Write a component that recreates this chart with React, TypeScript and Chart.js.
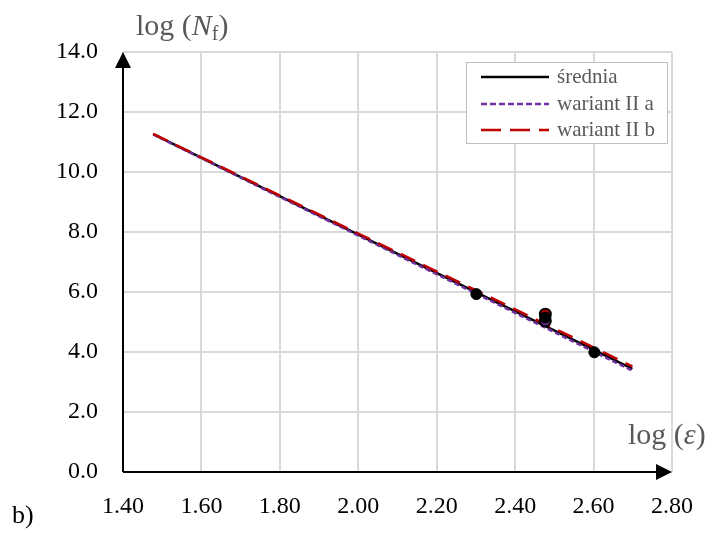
import React, { useEffect, useRef } from "react";
import { Chart, registerables } from "chart.js";

Chart.register(...registerables);

// x = log(strain), y = log(Nf)
const lineX = [1.477, 1.699, 2.0, 2.301, 2.477, 2.602, 2.699];
const sredniaY = [11.26, 9.84, 7.91, 5.99, 4.86, 4.06, 3.44];
const wariantAY = [11.25, 9.82, 7.88, 5.94, 4.81, 4.0, 3.38];
const wariantBY = [11.27, 9.86, 7.95, 6.05, 4.93, 4.14, 3.52];

const expX = [2.301, 2.477, 2.602];
const expY = [5.93, 5.15, 3.99];
const expRedX = [2.477];
const expRedY = [5.26];
const expPurpleX = [2.477];
const expPurpleY = [5.04];

const legendLabels = ["średnia", "wariant II a", "wariant II b"];
const xTicks = [1.4, 1.6, 1.8, 2.0, 2.2, 2.4, 2.6, 2.8];
const yTicks = [0, 2, 4, 6, 8, 10, 12, 14];

const BLACK = "#000000";
const PURPLE = "#7030A0";
const RED = "#C00000";
const GRAY_TEXT = "#595959";
const SERIF = '"Liberation Serif", "Times New Roman", serif';

const pts = (xs: number[], ys: number[]) => xs.map((x, i) => ({ x, y: ys[i] }));

const overlayPlugin = {
  id: "overlay",
  afterDraw(chart: any) {
    const ctx = chart.ctx;
    const xs = chart.scales.x;
    const ys = chart.scales.y;
    const x0 = xs.getPixelForValue(1.4);
    const x1 = xs.getPixelForValue(2.8);
    const y0 = ys.getPixelForValue(0);
    const y1 = ys.getPixelForValue(14);
    ctx.save();
    ctx.strokeStyle = BLACK;
    ctx.fillStyle = BLACK;
    ctx.lineWidth = 2;
    // y axis
    ctx.beginPath();
    ctx.moveTo(x0, y0);
    ctx.lineTo(x0, y1 + 14);
    ctx.stroke();
    ctx.beginPath();
    ctx.moveTo(x0, y1);
    ctx.lineTo(x0 - 8, y1 + 16);
    ctx.lineTo(x0 + 8, y1 + 16);
    ctx.closePath();
    ctx.fill();
    // x axis
    ctx.beginPath();
    ctx.moveTo(x0, y0);
    ctx.lineTo(x1 - 14, y0);
    ctx.stroke();
    ctx.beginPath();
    ctx.moveTo(x1, y0);
    ctx.lineTo(x1 - 16, y0 - 8);
    ctx.lineTo(x1 - 16, y0 + 8);
    ctx.closePath();
    ctx.fill();

    // legend
    const lx = 466.5, ly = 62.5, lw = 201, lh = 81;
    ctx.fillStyle = "#ffffff";
    ctx.fillRect(lx, ly, lw, lh);
    ctx.strokeStyle = "#bfbfbf";
    ctx.lineWidth = 1;
    ctx.strokeRect(lx, ly, lw, lh);
    const rows = [
      { color: BLACK, dash: [] as number[], y: 77 },
      { color: PURPLE, dash: [6, 3], y: 104 },
      { color: RED, dash: [20, 9], y: 130 },
    ];
    rows.forEach((r, i) => {
      ctx.strokeStyle = r.color;
      ctx.lineWidth = 2.5;
      ctx.setLineDash(r.dash);
      ctx.beginPath();
      ctx.moveTo(481, r.y);
      ctx.lineTo(549, r.y);
      ctx.stroke();
      ctx.setLineDash([]);
      ctx.fillStyle = GRAY_TEXT;
      ctx.font = `21px ${SERIF}`;
      ctx.textBaseline = "middle";
      ctx.textAlign = "left";
      ctx.fillText(legendLabels[i], 557, r.y);
    });
    ctx.restore();
  },
};

export default function App() {
  const ref = useRef<HTMLCanvasElement>(null);

  useEffect(() => {
    if (!ref.current) return;
    const chart = new Chart(ref.current, {
      type: "scatter",
      data: {
        datasets: [
          {
            label: "exp",
            data: pts(expX, expY),
            pointRadius: 5.5,
            pointBackgroundColor: BLACK,
            pointBorderColor: BLACK,
            pointBorderWidth: 1,
            showLine: false,
            order: 0,
          },
          {
            label: "exp red",
            data: pts(expRedX, expRedY),
            pointRadius: 5.5,
            pointBackgroundColor: RED,
            pointBorderColor: BLACK,
            pointBorderWidth: 2,
            showLine: false,
            order: 1,
          },
          {
            label: "exp purple",
            data: pts(expPurpleX, expPurpleY),
            pointRadius: 5.5,
            pointBackgroundColor: PURPLE,
            pointBorderColor: BLACK,
            pointBorderWidth: 2,
            showLine: false,
            order: 1,
          },
          {
            label: legendLabels[2],
            data: pts(lineX, wariantBY),
            showLine: true,
            borderColor: RED,
            borderWidth: 2.5,
            borderDash: [16, 9],
            pointRadius: 0,
            order: 2,
          },
          {
            label: legendLabels[1],
            data: pts(lineX, wariantAY),
            showLine: true,
            borderColor: PURPLE,
            borderWidth: 2.5,
            borderDash: [5, 3],
            pointRadius: 0,
            order: 3,
          },
          {
            label: legendLabels[0],
            data: pts(lineX, sredniaY),
            showLine: true,
            borderColor: BLACK,
            borderWidth: 2.5,
            pointRadius: 0,
            order: 4,
          },
        ],
      },
      options: {
        animation: false,
        responsive: false,
        devicePixelRatio: 1,
        layout: { padding: { top: 52, right: 38, left: 0, bottom: 0 } },
        plugins: { legend: { display: false }, tooltip: { enabled: false } },
        scales: {
          x: {
            type: "linear",
            min: 1.4,
            max: 2.8,
            afterFit: (s: any) => {
              s.height = 61;
            },
            afterBuildTicks: (s: any) => {
              s.ticks = xTicks.map((v) => ({ value: v }));
            },
            ticks: {
              color: BLACK,
              font: { family: SERIF, size: 24 },
              padding: 20,
              maxRotation: 0,
              callback: (v: any) => Number(v).toFixed(2),
            },
            grid: { color: "#d9d9d9", lineWidth: 2, drawTicks: false },
            border: { display: false },
          },
          y: {
            type: "linear",
            min: 0,
            max: 14,
            afterFit: (s: any) => {
              s.width = 123;
            },
            afterBuildTicks: (s: any) => {
              s.ticks = yTicks.map((v) => ({ value: v }));
            },
            ticks: {
              color: BLACK,
              font: { family: SERIF, size: 24 },
              padding: 25,
              callback: (v: any) => Number(v).toFixed(1),
            },
            grid: { color: "#d9d9d9", lineWidth: 2, drawTicks: false },
            border: { display: false },
          },
        },
      },
      plugins: [overlayPlugin],
    });
    return () => chart.destroy();
  }, []);

  const titleStyle: React.CSSProperties = {
    position: "absolute",
    fontFamily: SERIF,
    fontSize: 30,
    lineHeight: 1,
    color: GRAY_TEXT,
    whiteSpace: "nowrap",
  };

  return (
    <div style={{ position: "fixed", left: 0, top: 0, width: 713, height: 533, background: "#fff" }}>
      <canvas ref={ref} width={713} height={533} style={{ position: "absolute", left: 0, top: 0 }} />
      <div style={{ ...titleStyle, left: 136, top: 10 }}>
        log (<i>N</i>
        <sub style={{ fontSize: 20, verticalAlign: "-5px" }}>f</sub>)
      </div>
      <div style={{ ...titleStyle, left: 628, top: 419 }}>
        log (<i>ε</i>)
      </div>
      <div style={{ ...titleStyle, left: 12, top: 502, color: BLACK, fontSize: 26 }}>b)</div>
    </div>
  );
}
